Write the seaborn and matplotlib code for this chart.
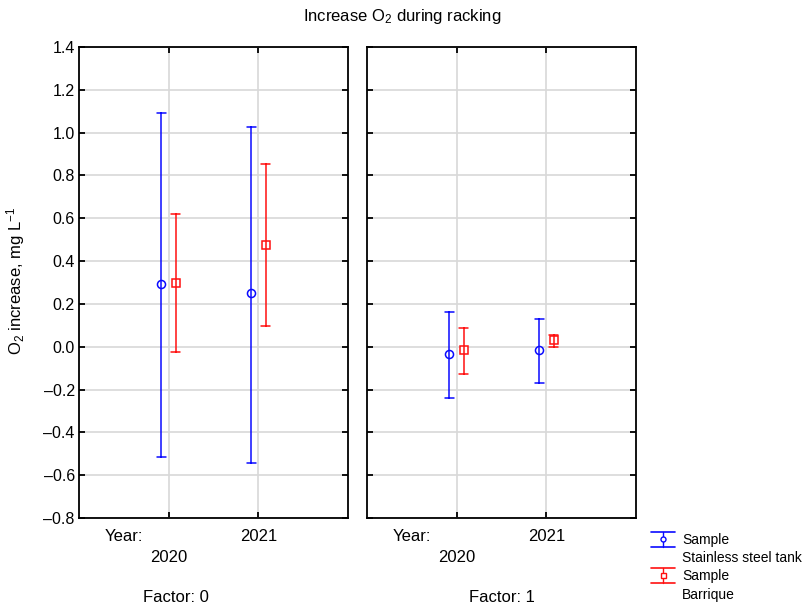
import matplotlib
matplotlib.use("Agg")
import numpy as np
import pandas as pd
import matplotlib.pyplot as plt
from matplotlib.legend_handler import HandlerBase
from matplotlib.lines import Line2D
from matplotlib.ticker import FuncFormatter, FixedLocator
import seaborn as sns

# ---- data -------------------------------------------------------------
factors = ["0", "1"]
years = ["2020", "2021"]
samples = ["Stainless steel tank", "Barrique"]

# order of entries: factor 0 (2020, 2021), factor 1 (2020, 2021)
steel_mean = [0.293, 0.250, -0.035, -0.016]
steel_low = [-0.516, -0.544, -0.240, -0.170]
steel_high = [1.092, 1.026, 0.162, 0.129]

barrique_mean = [0.297, 0.475, -0.016, 0.031]
barrique_low = [-0.025, 0.096, -0.128, -0.002]
barrique_high = [0.620, 0.853, 0.087, 0.054]

y_ticks = [-0.8, -0.6, -0.4, -0.2, 0.0, 0.2, 0.4, 0.6, 0.8, 1.0, 1.2, 1.4]

# long table: each group holds its lower limit, mean and upper limit
rows = []
for sample, means, lows, highs in [
    (samples[0], steel_mean, steel_low, steel_high),
    (samples[1], barrique_mean, barrique_low, barrique_high),
]:
    for i, (m, lo, hi) in enumerate(zip(means, lows, highs)):
        for v in (lo, m, hi):
            rows.append({"Factor": factors[i // 2], "Year": years[i % 2],
                         "Sample": sample, "value": v})
df = pd.DataFrame(rows)

# ---- style ------------------------------------------------------------
sns.set_theme(style="white")
plt.rcParams["font.family"] = ["Liberation Sans", "DejaVu Sans"]
plt.rcParams["mathtext.fontset"] = "custom"
plt.rcParams["mathtext.rm"] = "Liberation Sans"
plt.rcParams["mathtext.it"] = "Liberation Sans:italic"
plt.rcParams["mathtext.bf"] = "Liberation Sans:bold"
for key in ["text.color", "axes.labelcolor", "xtick.color", "ytick.color"]:
    plt.rcParams[key] = "black"

BLUE = "#0a0aff"
RED = "#ff1010"
palette = [BLUE, RED]

W, H = 805, 605
fig = plt.figure(figsize=(W / 100, H / 100), dpi=100)
ax_w, ax_h = 269 / W, 471 / H
ax_b = 1 - 518 / H
axes = [fig.add_axes([79 / W, ax_b, ax_w, ax_h]),
        fig.add_axes([367 / W, ax_b, ax_w, ax_h])]


def tick_fmt(v, pos):
    s = f"{round(v, 1):.1f}"
    if s == "-0.0":
        s = "0.0"
    return s.replace("-", "\u2013")


for ax, fac in zip(axes, factors):
    sub = df[df["Factor"] == fac]
    sns.pointplot(
        data=sub, x="Year", y="value", hue="Sample",
        order=years, hue_order=samples, palette=palette,
        estimator="median", errorbar=lambda v: (v.min(), v.max()),
        dodge=0.16, markers=["o", "s"], linestyles="none",
        capsize=0.1, err_kws={"linestyle": "-", "linewidth": 1.1},
        markersize=5.8, markeredgewidth=1.1, markerfacecolor="white",
        zorder=5, legend=False, ax=ax,
    )
    ax.set_xlim(-1, 2)
    ax.set_ylim(-0.8, 1.4)
    ax.yaxis.set_major_locator(FixedLocator(y_ticks))
    ax.yaxis.set_major_formatter(FuncFormatter(tick_fmt))
    ax.set_xlabel("")
    ax.set_ylabel("")
    ax.grid(True, color="#d8d8d8", linewidth=1.2)
    ax.set_axisbelow(True)
    for sp in ax.spines.values():
        sp.set_visible(True)
        sp.set_color("black")
        sp.set_linewidth(1.3)
    ax.tick_params(direction="in", length=4, width=1.3, color="black",
                   top=True, bottom=True, left=True, right=True,
                   labelbottom=False, labelsize=11.5, pad=3)

    # category labels under the panel
    xt = ax.get_xaxis_transform()
    ax.text(-0.5, -0.040, "Year:", transform=xt, ha="center", va="center",
            fontsize=12)
    ax.text(0, -0.083, years[0], transform=xt, ha="center", va="center",
            fontsize=12)
    ax.text(1, -0.040, years[1], transform=xt, ha="center", va="center",
            fontsize=12)

axes[1].tick_params(labelleft=False)

fig.text(176 / W, 1 - 598 / H, "Factor: 0", ha="center", va="center",
         fontsize=12)
fig.text(502 / W, 1 - 598 / H, "Factor: 1", ha="center", va="center",
         fontsize=12)

fig.text(0.5, 1 - 17 / H, "Increase O$_2$ during racking", ha="center",
         va="center", fontsize=12)
fig.text(16 / W, 1 - 281 / H, "O$_2$ increase, mg L$^{-1}$", rotation=90,
         ha="center", va="center", fontsize=12)


# ---- legend -----------------------------------------------------------
class ErrorIcon(HandlerBase):
    """Vertical error bar with wide caps and a small marker."""

    def create_artists(self, legend, orig_handle, xdescent, ydescent,
                       width, height, fontsize, trans):
        color = orig_handle.get_color()
        x0, x1 = -xdescent, width - xdescent
        cx = (x0 + x1) / 2
        cy = height / 2 - ydescent
        half = 0.55 * fontsize
        arts = [
            Line2D([x0, x1], [cy + half, cy + half], color=color, lw=1.2),
            Line2D([x0, x1], [cy - half, cy - half], color=color, lw=1.2),
            Line2D([cx, cx], [cy - half, cy + half], color=color, lw=1.0),
            Line2D([cx], [cy], marker=orig_handle.get_marker(), ms=3.6,
                   mfc="white", mec=color, mew=1.0, linestyle="none"),
        ]
        for a in arts:
            a.set_transform(trans)
        return arts


h_steel = Line2D([], [], color=BLUE, marker="o")
h_barr = Line2D([], [], color=RED, marker="s")
blank1 = Line2D([], [], linestyle="none", marker="none")
blank2 = Line2D([], [], linestyle="none", marker="none")
fig.legend(
    [h_steel, blank1, h_barr, blank2],
    ["Sample", samples[0], "Sample", samples[1]],
    handler_map={h_steel: ErrorIcon(), h_barr: ErrorIcon()},
    loc="upper left", bbox_to_anchor=(651 / W, 1 - 533 / H),
    frameon=False, fontsize=10, handlelength=1.7, handletextpad=0.55,
    labelspacing=0.30, borderpad=0, borderaxespad=0,
)

fig.savefig("out.png", dpi=100)
